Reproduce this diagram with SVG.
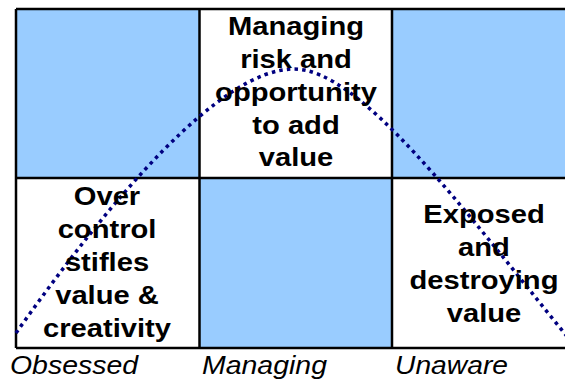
<svg xmlns="http://www.w3.org/2000/svg" width="565" height="383" viewBox="0 0 565 383">
<style>
.blue{fill:#99CCFF}
.grid{fill:none;stroke:#000;stroke-width:2.5}
.lbl{font-family:"Liberation Sans",Arial,sans-serif;font-weight:bold;font-size:26.5px;fill:#000;text-anchor:middle}
.axis{font-family:"Liberation Sans",Arial,sans-serif;font-style:italic;font-size:25px;fill:#000}
.curve{fill:none;stroke:#000080;stroke-width:3.5;stroke-dasharray:3.5 4.2}
</style>
<rect width="565" height="383" fill="#fff"/>
<g id="cell-top-left"><rect class="blue" x="16" y="9" width="183.5" height="169"/></g>
<g id="cell-top-right"><rect class="blue" x="392" y="9" width="190" height="169"/></g>
<g id="cell-bottom-mid"><rect class="blue" x="199.5" y="178" width="192.5" height="170"/></g>
<g id="grid">
<path class="grid" d="M16,9H585M16,178H585M16,348H585M16,9V348M199.5,9V348M392,9V348"/>
</g>
<g id="connectors">
<path class="curve" d="M16,333 C110,200 220,69 294,69 C360,69 460,205 570,340"/>
</g>
<g id="node-managing-risk">
<g transform="translate(296 0) scale(1.1 1)">
<text class="lbl" x="0" y="35">Managing</text>
<text class="lbl" x="0" y="68">risk  and</text>
<text class="lbl" x="0" y="101">opportunity</text>
<text class="lbl" x="0" y="134">to add</text>
<text class="lbl" x="0" y="166">value</text>
</g>
</g>
<g id="node-over-control">
<g transform="translate(107 0) scale(1.1 1)">
<text class="lbl" x="0" y="205">Over</text>
<text class="lbl" x="0" y="238">control</text>
<text class="lbl" x="0" y="271">stifles</text>
<text class="lbl" x="0" y="304">value &amp;</text>
<text class="lbl" x="0" y="337">creativity</text>
</g>
</g>
<g id="node-exposed">
<g transform="translate(484 0) scale(1.1 1)">
<text class="lbl" x="0" y="223">Exposed</text>
<text class="lbl" x="0" y="256">and</text>
<text class="lbl" x="0" y="289">destroying</text>
<text class="lbl" x="0" y="322">value</text>
</g>
</g>
<g id="axis-labels">
<text class="axis" x="10" y="374" textLength="128" lengthAdjust="spacingAndGlyphs">Obsessed</text>
<text class="axis" x="202" y="374" textLength="125" lengthAdjust="spacingAndGlyphs">Managing</text>
<text class="axis" x="395" y="374" textLength="113" lengthAdjust="spacingAndGlyphs">Unaware</text>
</g>
</svg>
